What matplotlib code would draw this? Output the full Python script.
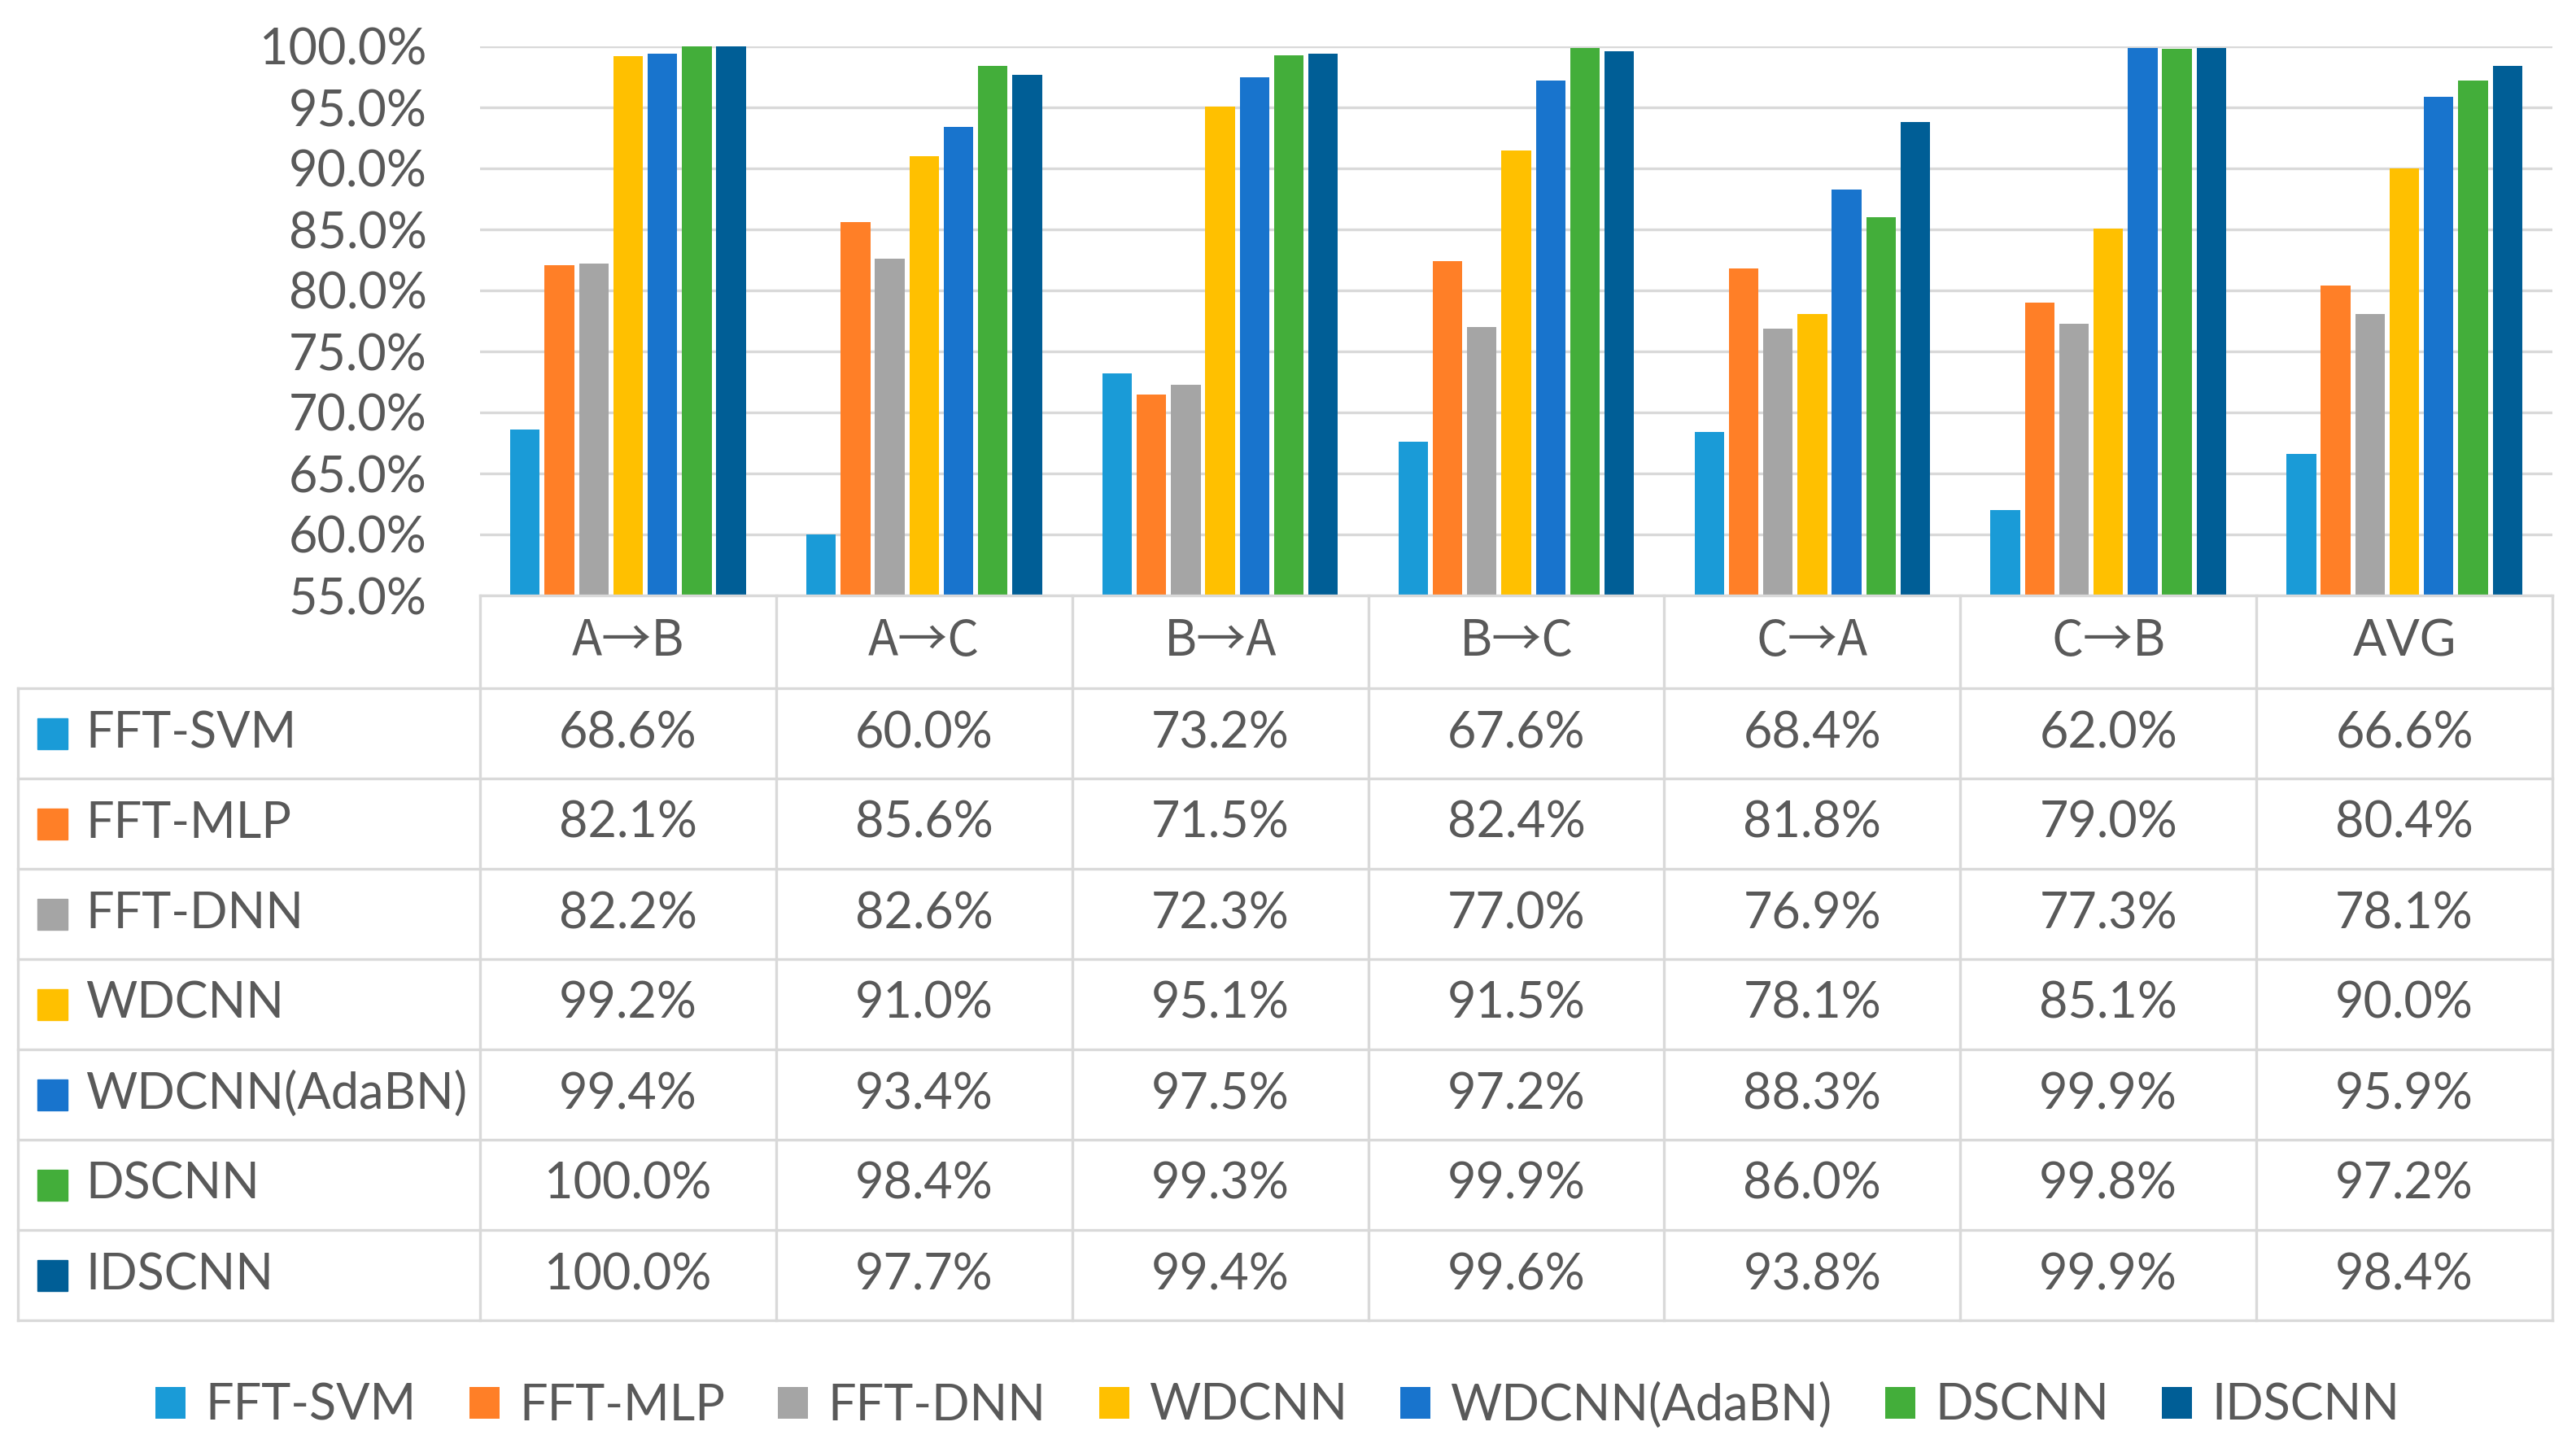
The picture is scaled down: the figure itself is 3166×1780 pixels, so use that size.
import matplotlib
matplotlib.use("Agg")
import matplotlib.pyplot as plt
from matplotlib.patches import Rectangle
from matplotlib.ticker import FuncFormatter

plt.rcParams["font.family"] = ["Lato", "Noto Sans CJK SC", "DejaVu Sans"]

tasks = ["A→B", "A→C", "B→A", "B→C", "C→A", "C→B", "AVG"]
methods = ["FFT-SVM", "FFT-MLP", "FFT-DNN", "WDCNN", "WDCNN(AdaBN)", "DSCNN", "IDSCNN"]

fft_svm = [68.6, 60.0, 73.2, 67.6, 68.4, 62.0, 66.6]
fft_mlp = [82.1, 85.6, 71.5, 82.4, 81.8, 79.0, 80.4]
fft_dnn = [82.2, 82.6, 72.3, 77.0, 76.9, 77.3, 78.1]
wdcnn = [99.2, 91.0, 95.1, 91.5, 78.1, 85.1, 90.0]
wdcnn_adabn = [99.4, 93.4, 97.5, 97.2, 88.3, 99.9, 95.9]
dscnn = [100.0, 98.4, 99.3, 99.9, 86.0, 99.8, 97.2]
idscnn = [100.0, 97.7, 99.4, 99.6, 93.8, 99.9, 98.4]

series = [fft_svm, fft_mlp, fft_dnn, wdcnn, wdcnn_adabn, dscnn, idscnn]
colors = ["#1A9BD7", "#FF7F27", "#A5A5A5", "#FFC000", "#1874CD", "#43AE3A", "#005E96"]

text_color = "#595959"
line_color = "#D9D9D9"
fs = 44

W, H = 3166, 1780
fig = plt.figure(figsize=(W / 100, H / 100), dpi=100)

# pixel layout
plot_left, plot_right = 590, 3137
plot_top, plot_bottom = 57, 732
head_bottom = 846
row_h = 111
table_left = 22

ax = fig.add_axes([plot_left / W, 1 - plot_bottom / H,
                   (plot_right - plot_left) / W, (plot_bottom - plot_top) / H])

n = len(series)
pitch = 0.116
bar_w = 0.10
for i, (vals, c) in enumerate(zip(series, colors)):
    xs = [k + (i - (n - 1) / 2) * pitch for k in range(len(tasks))]
    ax.bar(xs, vals, width=bar_w, color=c, zorder=3, label=methods[i])

ax.set_xlim(-0.5, len(tasks) - 0.5)
ax.set_ylim(55, 100)
ax.set_yticks(range(55, 101, 5))
ax.yaxis.set_major_formatter(FuncFormatter(lambda v, p: f"{v:.1f}%"))
ax.set_xticks([])
ax.tick_params(axis="y", length=0, pad=47, labelsize=fs, labelcolor=text_color)
ax.yaxis.grid(True, color=line_color, linewidth=2.4, zorder=0)
for s in ax.spines.values():
    s.set_visible(False)

# table drawn in pixel coordinates
tax = fig.add_axes([0, 0, 1, 1])
tax.set_xlim(0, W)
tax.set_ylim(H, 0)
tax.axis("off")

col_w = (plot_right - plot_left) / len(tasks)
table_bottom = head_bottom + row_h * len(methods)
lw = 2.4

# header top line and column lines
tax.plot([plot_left, plot_right], [plot_bottom, plot_bottom], color=line_color, lw=lw)
for k in range(len(tasks) + 1):
    x = plot_left + k * col_w
    tax.plot([x, x], [plot_bottom, table_bottom], color=line_color, lw=lw)
tax.plot([table_left, table_left], [head_bottom, table_bottom], color=line_color, lw=lw)
for r in range(len(methods) + 1):
    y = head_bottom + r * row_h
    tax.plot([table_left, plot_right], [y, y], color=line_color, lw=lw)

for k, t in enumerate(tasks):
    fam = ["Noto Sans CJK SC", "DejaVu Sans"] if "→" in t else ["Lato", "DejaVu Sans"]
    tax.text(plot_left + (k + 0.5) * col_w, (plot_bottom + head_bottom) / 2, t,
             ha="center", va="center", fontsize=fs, color=text_color, family=fam)

for r, (m, vals, c) in enumerate(zip(methods, series, colors)):
    yc = head_bottom + (r + 0.5) * row_h
    tax.add_patch(Rectangle((46, yc - 19), 37, 38, color=c))
    tax.text(105, yc, m, ha="left", va="center", fontsize=fs, color=text_color)
    for k, v in enumerate(vals):
        tax.text(plot_left + (k + 0.5) * col_w, yc, f"{v:.1f}%",
                 ha="center", va="center", fontsize=fs, color=text_color)

handles, labels = ax.get_legend_handles_labels()
leg = fig.legend(handles, labels, loc="center", bbox_to_anchor=(0.496, 1 - 1728 / H),
                 ncol=7, frameon=False, fontsize=fs, handlelength=0.6, handleheight=0.6,
                 handletextpad=0.4, columnspacing=1.07, borderaxespad=0)
for t in leg.get_texts():
    t.set_color(text_color)

fig.savefig("out.png", dpi=100)
